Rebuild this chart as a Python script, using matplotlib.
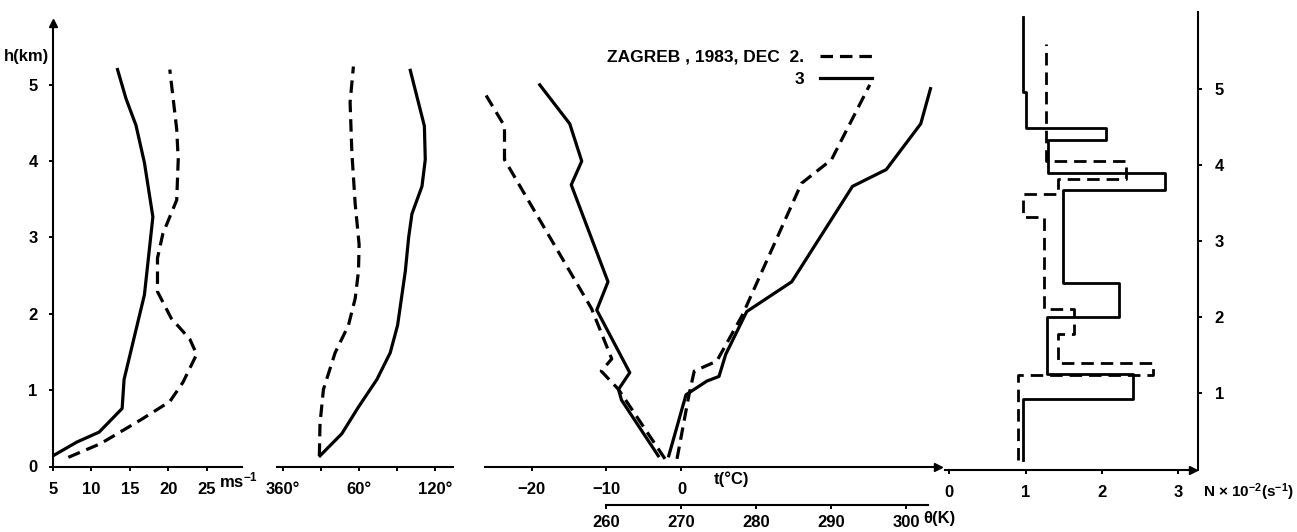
import numpy as np
import matplotlib
matplotlib.use('Agg')
import matplotlib.pyplot as plt
from matplotlib.lines import Line2D

plt.rcParams['font.family'] = ['Liberation Sans Narrow', 'Liberation Sans', 'DejaVu Sans']
plt.rcParams['font.weight'] = 'bold'
plt.rcParams['mathtext.default'] = 'regular'
plt.rcParams['lines.scale_dashes'] = False

# wind speed (m/s) vs height (km)
spd_h_solid = [0.14, 0.32, 0.45, 0.76, 1.14, 2.25, 3.27, 3.98, 4.47, 4.82, 5.2]
spd_solid = [5.0, 8.1, 11.0, 14.0, 14.25, 16.9, 18.0, 16.9, 15.8, 14.5, 13.4]
spd_h_dash = [0.12, 0.3, 0.61, 0.85, 1.1, 1.47, 1.67, 1.94, 2.29, 2.73, 3.05, 3.49, 4.02, 4.42, 5.2]
spd_dash = [7.0, 11.2, 16.4, 20.2, 21.9, 23.7, 22.8, 20.4, 18.6, 18.6, 19.3, 21.1, 21.3, 21.1, 20.2]

# wind direction (deg, 0 = 360)
dir_h_solid = [0.14, 0.43, 0.78, 1.14, 1.49, 1.85, 2.56, 3.0, 3.31, 3.67, 4.02, 4.46, 5.19]
dir_solid = [29.4, 46.6, 59.7, 74.2, 84.7, 90.5, 96.6, 99.2, 101.8, 109.7, 112.3, 111.6, 100.5]
dir_h_dash = [0.14, 0.56, 1.01, 1.49, 1.85, 2.2, 2.56, 2.91, 3.44, 4.11, 4.77, 5.24]
dir_dash = [28.9, 29.4, 32.1, 41.3, 51.8, 57.1, 59.7, 60.2, 57.1, 54.5, 53.1, 55.7]

# temperature (C)
t_h_solid = [0.14, 0.87, 1.01, 1.23, 2.05, 2.42, 3.69, 4.0, 4.49, 5.0]
t_solid = [-3.1, -8.0, -8.4, -6.9, -11.3, -9.8, -14.7, -13.3, -14.9, -18.9]
t_h_dash = [0.1, 1.01, 1.25, 1.41, 2.07, 4.02, 4.46, 5.0]
t_dash = [-2.2, -8.4, -10.7, -9.3, -12.0, -23.6, -23.6, -26.9]

# potential temperature (K)
th_h_solid = [0.14, 0.94, 1.12, 1.18, 1.47, 2.03, 2.42, 3.67, 3.89, 4.49, 4.95]
th_solid = [268.3, 270.6, 273.4, 275.0, 275.9, 278.7, 284.7, 292.8, 297.3, 301.9, 303.2]
th_h_dash = [0.1, 0.94, 1.25, 1.38, 1.98, 3.71, 4.02, 5.0]
th_dash = [269.4, 271.0, 271.7, 274.7, 278.1, 286.0, 290.0, 295.1]

# Brunt-Vaisala frequency N (x 10^-2 s^-1), layer boundaries and values
n_bnd_solid = [0.13, 0.93, 1.25, 2.0, 2.45, 3.67, 3.89, 4.32, 4.48, 4.95, 5.94]
n_solid = [0.97, 2.41, 1.28, 2.23, 1.49, 2.83, 1.30, 2.06, 1.00, 0.97]
n_bnd_dash = [0.13, 1.24, 1.40, 1.78, 2.11, 3.32, 3.62, 3.81, 4.05, 5.59]
n_dash = [0.90, 2.67, 1.43, 1.63, 1.24, 0.96, 1.43, 2.32, 1.27]

W, H = 1297, 532
fig = plt.figure(figsize=(W / 100, H / 100), dpi=100)

def box(l, r, b, t):
    return [l / W, 1 - b / H, (r - l) / W, (b - t) / H]

lw = 2.3
dash = (0, (9, 5))
fs = 12

def style(ax, left=False, right=False):
    for s in ['top', 'right', 'left']:
        ax.spines[s].set_visible(False)
    ax.spines['bottom'].set_linewidth(1.5)
    ax.patch.set_visible(False)
    ax.tick_params(axis='x', direction='out', length=3, width=1.4, pad=8, labelsize=fs)
    if left:
        ax.spines['left'].set_visible(True)
        ax.spines['left'].set_linewidth(1.5)
        ax.tick_params(axis='y', direction='out', length=3, width=1.4, pad=8, labelsize=fs)
    elif right:
        ax.spines['right'].set_visible(True)
        ax.spines['right'].set_linewidth(1.5)
        ax.yaxis.tick_right()
        ax.tick_params(axis='y', direction='out', length=3, width=1.4, pad=9, labelsize=fs)
    else:
        ax.set_yticks([])

# panel 1: wind speed
ax1 = fig.add_axes(box(53, 242, 466.5, 23))
style(ax1, left=True)
ax1.plot(spd_solid, spd_h_solid, 'k-', lw=lw)
ax1.plot(spd_dash, spd_h_dash, 'k', ls=dash, lw=lw)
ax1.set_xlim(5, 29.6)
ax1.set_ylim(0, 5.81)
ax1.set_xticks([5, 10, 15, 20, 25])
ax1.set_yticks([0, 1, 2, 3, 4, 5])
ax1.plot(0, 1, marker='^', ms=6, color='k', transform=ax1.transAxes, clip_on=False)
ax1.text(-0.02, 0.925, 'h(km)', transform=ax1.transAxes, ha='right', va='center', fontsize=fs)
ax1.text(26.6, -0.008, 'ms$^{-1}$', transform=ax1.get_xaxis_transform(), ha='left', va='top', fontsize=fs)

# panel 2: wind direction
ax2 = fig.add_axes(box(276.7, 452.7, 466.5, 23))
style(ax2)
ax2.plot(dir_solid, dir_h_solid, 'k-', lw=lw)
ax2.plot(dir_dash, dir_h_dash, 'k', ls=dash, lw=lw)
ax2.set_xlim(-4.7, 133.9)
ax2.set_ylim(0, 5.81)
ax2.set_xticks([0, 30, 60, 90, 120])
ax2.set_xticklabels(['360°', '', '60°', '', '120°'])

# panel 3: temperature and potential temperature
ax3 = fig.add_axes(box(485, 938, 466.5, 23))
style(ax3)
ax3.plot(t_solid, t_h_solid, 'k-', lw=lw)
ax3.plot(t_dash, t_h_dash, 'k', ls=dash, lw=lw)
ax3.set_xlim(-26.2, 34.2)
ax3.set_ylim(0, 5.81)
ax3.set_xticks([-20, -10, 0])
ax3.set_xticklabels(['−20', '−10', '0'])
ax3.plot(1, 0, marker='>', ms=6, color='k', transform=ax3.transAxes, clip_on=False)
ax3.text(4.3, -0.028, 't(°C)', transform=ax3.get_xaxis_transform(), ha='left', va='center', fontsize=fs)

ax3b = ax3.twiny()
ax3b.patch.set_visible(False)
for s in ['top', 'right', 'left']:
    ax3b.spines[s].set_visible(False)
ax3b.xaxis.set_ticks_position('bottom')
ax3b.xaxis.set_label_position('bottom')
ax3b.spines['bottom'].set_position(('outward', 27.7))
ax3b.spines['bottom'].set_linewidth(1.5)
ax3b.spines['bottom'].set_bounds(260, 302.9)
ax3b.tick_params(axis='x', direction='out', length=3, width=1.4, pad=4, labelsize=fs)
ax3b.set_xlim(-26.2 + 270, 34.2 + 270)
ax3b.set_xticks([260, 270, 280, 290, 300])
ax3b.plot(th_solid, th_h_solid, 'k-', lw=lw)
ax3b.plot(th_dash, th_h_dash, 'k', ls=dash, lw=lw)
ax3b.text(302.2, -0.118, 'θ(K)', transform=ax3b.get_xaxis_transform(), ha='left', va='center', fontsize=fs)

handles = [Line2D([], [], color='k', ls=dash, lw=lw), Line2D([], [], color='k', lw=lw)]
leg = ax3.legend(handles, ['ZAGREB , 1983, DEC  2.', '3'], markerfirst=False, frameon=False,
                 loc='upper right', bbox_to_anchor=(0.855, 0.94), borderaxespad=0, borderpad=0,
                 handlelength=3.0, handletextpad=0.9, labelspacing=0.4,
                 prop={'family': ['Liberation Sans', 'DejaVu Sans'], 'weight': 'bold', 'size': 12.5})

# panel 4: N profile
ax4 = fig.add_axes(box(945, 1198, 469.5, 11.7))
style(ax4, right=True)
ys = np.repeat(n_bnd_solid, 2)[1:-1]
xs = np.repeat(n_solid, 2)
ax4.plot(xs, ys, 'k-', lw=2.0)
ys = np.repeat(n_bnd_dash, 2)[1:-1]
xs = np.repeat(n_dash, 2)
ax4.plot(xs, ys, 'k', ls=dash, lw=2.0)
ax4.set_xlim(-0.056, 3.26)
ax4.set_ylim(0, 6.01)
ax4.spines['bottom'].set_bounds(-0.056, 3.19)
ax4.set_xticks([0, 1, 2, 3])
ax4.set_yticks([1, 2, 3, 4, 5])
ax4.plot(3.19, 0, marker='>', ms=6, color='k', clip_on=False)
ax4.text(3.32, -0.05, 'N × 10$^{-2}$(s$^{-1}$)', transform=ax4.get_xaxis_transform(),
         ha='left', va='center', fontsize=11)

fig.savefig('out.png', dpi=100)
